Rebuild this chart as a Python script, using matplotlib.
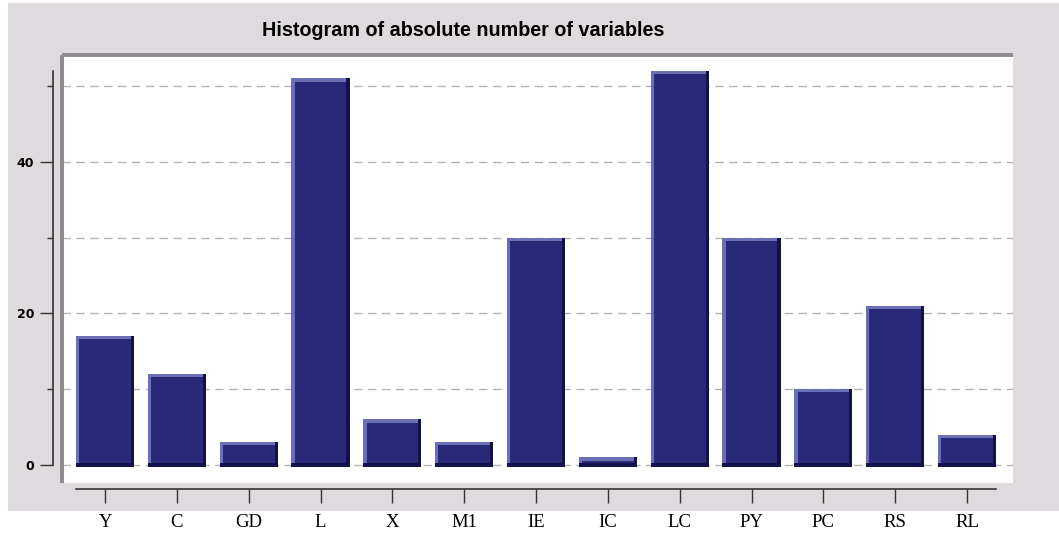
import numpy as np
import matplotlib.pyplot as plt
from matplotlib.patches import Rectangle

categories = ['Y', 'C', 'GD', 'L', 'X', 'M1', 'IE', 'IC', 'LC', 'PY', 'PC', 'RS', 'RL']
counts = [17, 12, 3, 51, 6, 3, 30, 1, 52, 30, 10, 21, 4]
y_major = [0, 20, 40]
y_minor = [10, 30, 50]

bg_gray = '#dedadd'
fill = '#29297a'
light = '#6d6fb3'
dark = '#14114a'

W, H = 1059, 533
fig = plt.figure(figsize=(W / 100, H / 100), dpi=100)
fig.patch.set_facecolor('white')
fig.patches.append(Rectangle((8 / W, 1 - 511 / H), 1 - 8 / W, (511 - 3) / H,
                             transform=fig.transFigure, facecolor=bg_gray,
                             edgecolor='none', zorder=-10))

ax = fig.add_axes([62 / W, 50 / H, (1013 - 62) / W, (483 - 55) / H])
ax.set_facecolor('white')

x = np.arange(len(categories))
w = 0.81
dx, dy = 0.045, 0.42
vals = np.array(counts, dtype=float)

# bevelled bars: dark base, light top/left, main face
ax.bar(x, vals + dy / 2, bottom=-dy / 2, width=w, color=dark, zorder=3)
ax.bar(x - dx / 2, vals - dy / 2, bottom=dy / 2, width=w - dx, color=light, zorder=4)
ax.bar(x, vals - 1.5 * dy, bottom=dy / 2, width=w - 2 * dx, color=fill, zorder=5)

ax.set_xlim(-0.6, len(categories) - 1 + 0.64)
ax.set_ylim(-2.38, 54.1)

for v in [0] + y_minor + y_major[1:]:
    ax.axhline(v, color='#b4b4b4', lw=1, ls=(0, (6, 4)), zorder=1)

# panel border (thick gray on top and left)
ax.plot([0, 1], [1, 1], transform=ax.transAxes, color='#8c8a8c', lw=2.8,
        clip_on=False, solid_capstyle='butt', zorder=6)
ax.plot([0, 0], [0, 1], transform=ax.transAxes, color='#8c8a8c', lw=2.8,
        clip_on=False, solid_capstyle='butt', zorder=6)

for s in ['top', 'right']:
    ax.spines[s].set_visible(False)
ax.spines['left'].set_position(('outward', 6.5))
ax.spines['left'].set_bounds(0, 52)
ax.spines['bottom'].set_position(('outward', 4.5))
ax.spines['bottom'].set_bounds(x[0] - w / 2, x[-1] + w / 2)
for s in ['left', 'bottom']:
    ax.spines[s].set_color('#333333')
    ax.spines[s].set_linewidth(1.2)

ax.set_xticks(x)
ax.set_xticklabels(categories, family='Liberation Serif', fontsize=13.5)
ax.tick_params(axis='x', length=10, width=1, color='#333333', pad=8)

ax.set_yticks(y_major)
ax.set_yticklabels([str(v) for v in y_major], fontsize=9, fontweight='bold')
ax.set_yticks(y_minor, minor=True)
ax.tick_params(axis='y', which='major', length=9.5, width=1, color='#333333', pad=4)
ax.tick_params(axis='y', which='minor', length=4, width=1, color='#333333')

fig.text(463 / W, 1 - 31 / H, 'Histogram of absolute number of variables',
         ha='center', va='center', fontsize=14.2, fontweight='bold',
         family='Liberation Sans')

fig.savefig('out.png', dpi=100, facecolor=fig.get_facecolor())
